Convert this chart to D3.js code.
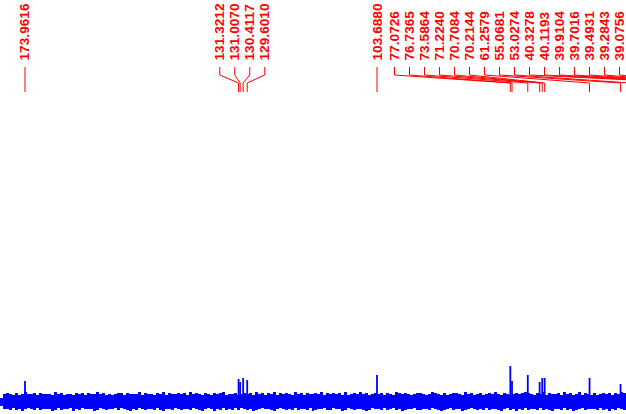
<!DOCTYPE html>
<html>
<head>
<meta charset="utf-8">
<script src="https://cdn.jsdelivr.net/npm/d3@7"></script>
<style>
    body { margin: 0; background: #fff; }
    svg { display: block; }
    .label { font-family: "Liberation Sans", Arial, sans-serif; font-weight: bold; font-size: 13.7px; fill: #ff0000; }
</style>
</head>
<body>
<svg id="chart" width="626" height="414"></svg>
<script>
// chemical shift range shown (ppm, left to right)
const ppmRange = [178.95, 53.98];

// picked peaks: shift (ppm) and height above baseline
const peakShifts = [173.9616, 131.3212, 131.0070, 130.4117, 129.6010, 103.6880,
    77.0726, 76.7365, 73.5864, 71.2240, 70.7084, 70.2144, 61.2579, 55.0681,
    53.0274, 40.3278, 40.1193, 39.9104, 39.7016, 39.4931, 39.2843, 39.0756];
const peakHeights = [20, 22, 19, 23, 21, 26,
    35, 20, 26, 19, 23, 23, 23, 17,
    18, 30, 30, 30, 30, 30, 30, 30];

// baseline noise envelope, one char per bin (base 36)
const noiseTop = '3787686797786877769786776878687797867678868777968776879687787869787687' +
    '68789677867878697868796878769786877879687878696787978678786876987876788767987686' +
    '78876978678678797687678789876879687786978679687686787868798';
const noiseBottom = '5889798a878979888a979887a897888a97898879789a8978988979a889789889789a87' +
    '8a897989797898a987889a878989798897a988799788a9789889a97889798798a988799889789a98' +
    '7988a987898979889a8798a89798897989a889798a98798889798a89789';

const svg = d3.select('#chart');
const width = +svg.attr('width');

const x = d3.scaleLinear().domain(ppmRange).range([0, width]);
const y = d3.scaleLinear().domain([0, 100]).range([401, 301]);

// spectrum noise band
const noiseHi = noiseTop.split('').map(c => parseInt(c, 36));
const noiseLo = noiseBottom.split('').map(c => parseInt(c, 36));
const n = Math.min(noiseHi.length, noiseLo.length);
const step = (ppmRange[0] - ppmRange[1]) / n;
const bins = d3.range(n + 1).map(i => ({
    ppm: ppmRange[0] - i * step,
    hi: noiseHi[Math.min(i, n - 1)],
    lo: noiseLo[Math.min(i, n - 1)]
}));

const area = d3.area()
    .curve(d3.curveStepAfter)
    .x(d => x(d.ppm))
    .y0(d => y(-d.lo))
    .y1(d => y(d.hi));

svg.append('path')
    .datum(bins)
    .attr('d', area)
    .attr('fill', '#0000ff')
    .attr('shape-rendering', 'crispEdges');

const peaks = peakShifts.map((s, i) => ({shift: s, h: peakHeights[i], px: x(s)}));

svg.append('g')
    .selectAll('line')
    .data(peaks.filter(d => d.px >= 0 && d.px <= width))
    .enter().append('line')
    .attr('x1', d => d.px)
    .attr('x2', d => d.px)
    .attr('y1', y(-4))
    .attr('y2', d => y(d.h))
    .attr('stroke', '#0000ff')
    .attr('stroke-width', 1.8);

// spread labels so they do not overlap, keeping them inside the plot
function spreadLabels(items, gap, lo, hi) {
    let groups = items.map(d => ({members: [d]}));
    const place = g => {
        const c = d3.mean(g.members, d => d.px);
        const len = (g.members.length - 1) * gap;
        g.start = Math.max(lo, Math.min(hi - len, c - len / 2));
    };
    groups.forEach(place);
    let merged = true;
    while (merged) {
        merged = false;
        for (let i = 1; i < groups.length; i += 1) {
            const prev = groups[i - 1];
            if (groups[i].start < prev.start + prev.members.length * gap) {
                prev.members = prev.members.concat(groups[i].members);
                groups.splice(i, 1);
                place(prev);
                merged = true;
                break;
            }
        }
    }
    groups.forEach(g => g.members.forEach((d, k) => { d.lx = g.start + k * gap; }));
}

spreadLabels(peaks, 15, 10, 619.5);

const labelBottom = 60.5;

const leaders = svg.append('g')
    .attr('fill', 'none')
    .attr('stroke', '#ff0000')
    .attr('stroke-width', 1);

leaders.selectAll('path')
    .data(peaks)
    .enter().append('path')
    .attr('d', d => {
        const p = d3.path();
        p.moveTo(d.lx, 67);
        p.lineTo(d.lx, 75);
        p.lineTo(d.px, 83);
        p.lineTo(d.px, 92);
        return p.toString();
    });

svg.append('g')
    .selectAll('text')
    .data(peaks)
    .enter().append('text')
    .attr('class', 'label')
    .attr('transform', d => `translate(${d.lx + 4.5},${labelBottom}) rotate(-90)`)
    .text(d => d.shift.toFixed(4));
</script>
</body>
</html>
